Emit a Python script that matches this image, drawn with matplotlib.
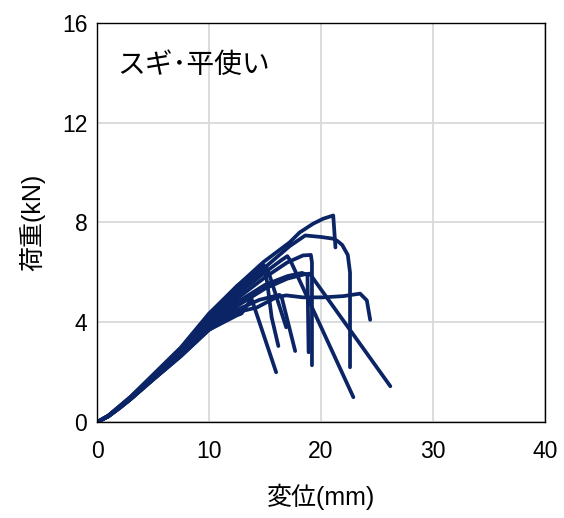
import matplotlib
matplotlib.use("Agg")
import matplotlib.pyplot as plt

# ==========================================
# Load-displacement data
# ==========================================
title_text = "スギ･平使い"
x_label = "変位(mm)"
y_label = "荷重(kN)"
x_ticks = [0, 10, 20, 30, 40]
y_ticks = [0, 4, 8, 12, 16]

disp_a = [0, 1, 2, 3, 5, 7.5, 10, 12.5, 14.85, 17.2, 18.1, 19.3, 20.2, 21.1, 21.3]
load_a = [0, 0.25, 0.62, 1.0, 1.85, 2.95, 4.3, 5.45, 6.41, 7.2, 7.6, 7.95, 8.15, 8.28, 7.0]

disp_b = [0, 1, 2, 3, 5, 7.5, 10, 12.5, 15, 17.2, 18.6, 20, 21.1, 21.5, 21.9, 22.4, 22.6, 22.6]
load_b = [0, 0.25, 0.6, 0.98, 1.82, 2.9, 4.2, 5.3, 6.2, 7.05, 7.48, 7.42, 7.35, 7.25, 7.1, 6.7, 6.0, 2.2]

disp_c = [0, 1, 2, 3, 5, 7.5, 10, 12.5, 14.9, 15.2, 15.6, 16.2]
load_c = [0, 0.26, 0.64, 1.02, 1.9, 3.0, 4.35, 5.45, 6.3, 5.6, 4.2, 3.05]

disp_d = [0, 1, 2, 3, 5, 7.5, 10, 12.5, 15.2, 15.4, 16.9]
load_d = [0, 0.25, 0.62, 1.0, 1.85, 2.92, 4.2, 5.25, 6.15, 5.9, 3.8]

disp_e = [0, 1, 2, 3, 5, 7.5, 10, 12.5, 15, 16.5, 17.0, 17.3, 22.9]
load_e = [0, 0.25, 0.6, 0.97, 1.8, 2.85, 4.1, 5.1, 6.0, 6.5, 6.65, 6.45, 1.0]

disp_f = [0, 1, 2, 3, 5, 7.5, 10, 12.5, 15, 17, 18.4, 19.1, 19.2, 19.2]
load_f = [0, 0.24, 0.6, 0.96, 1.78, 2.8, 4.0, 4.95, 5.8, 6.4, 6.68, 6.7, 6.4, 2.28]

disp_g = [0, 1, 2, 3, 5, 7.5, 10, 12.5, 15, 17, 18.3, 18.8, 18.9]
load_g = [0, 0.24, 0.58, 0.94, 1.75, 2.75, 3.9, 4.8, 5.5, 5.85, 5.98, 5.9, 2.8]

disp_h = [0, 1, 2, 3, 5, 7.5, 10, 12.5, 15, 17, 18.5, 19.0, 26.2]
load_h = [0, 0.23, 0.57, 0.93, 1.72, 2.7, 3.8, 4.65, 5.35, 5.75, 5.92, 5.95, 1.44]

disp_i = [0, 1, 2, 3, 5, 7.5, 10, 12.5, 14.3, 16, 16.9, 18.4, 20.2, 22, 23.5, 24.1, 24.4]
load_i = [0, 0.23, 0.56, 0.92, 1.7, 2.65, 3.7, 4.4, 4.6, 5.0, 5.08, 5.0, 5.0, 5.05, 5.15, 4.88, 4.1]

disp_j = [0, 1, 2, 3, 5, 7.5, 10, 12.5, 12.9, 13.8, 16.0]
load_j = [0, 0.23, 0.56, 0.92, 1.7, 2.65, 3.7, 4.28, 4.35, 4.95, 2.0]

disp_k = [0, 1, 2, 3, 5, 7.5, 10, 12.5, 14.5, 16.3, 16.5, 17.7]
load_k = [0, 0.23, 0.57, 0.93, 1.72, 2.68, 3.75, 4.5, 4.9, 5.1, 5.0, 2.85]

all_disp = [disp_a, disp_b, disp_c, disp_d, disp_e, disp_f,
            disp_g, disp_h, disp_i, disp_j, disp_k]
all_load = [load_a, load_b, load_c, load_d, load_e, load_f,
            load_g, load_h, load_i, load_j, load_k]

# ==========================================
# Plot
# ==========================================
plt.rcParams['font.family'] = ['Liberation Sans', 'Noto Sans CJK JP']

fig = plt.figure(figsize=(5.64, 5.18), dpi=100)
ax = fig.add_axes([0.172, 0.185, 0.794, 0.771])

line_color = '#0B2465'
for xs, ys in zip(all_disp, all_load):
    ax.plot(xs, ys, color=line_color, lw=2.7, solid_capstyle='round',
            solid_joinstyle='round')

ax.set_xlim(0, 40)
ax.set_ylim(0, 16)
ax.set_xticks(x_ticks)
ax.set_yticks(y_ticks)
ax.tick_params(length=0, labelsize=16.5)
ax.tick_params(axis='x', pad=13)
ax.tick_params(axis='y', pad=7)
ax.grid(True, color='#d9d9d9', lw=1.3)
ax.set_axisbelow(True)
for s in ax.spines.values():
    s.set_color('black')
    s.set_linewidth(1.0)

ax.set_xlabel(x_label, fontsize=18, labelpad=15)
ax.set_ylabel(y_label, fontsize=18, labelpad=12)
ax.text(0.045, 0.893, title_text, transform=ax.transAxes, fontsize=20,
        va='center', ha='left')

fig.savefig('out.png', dpi=100)
